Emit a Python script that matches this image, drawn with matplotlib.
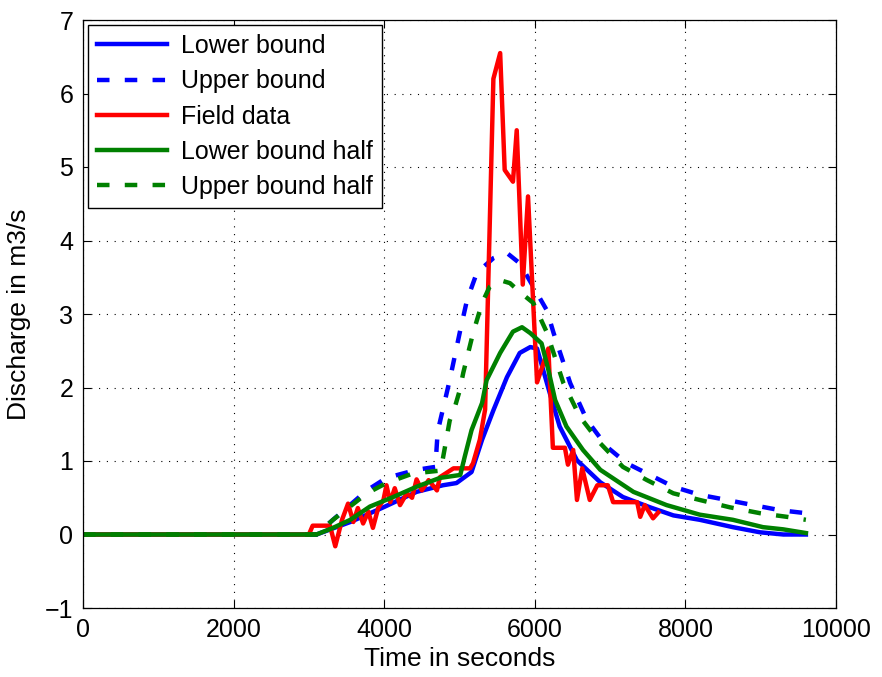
import matplotlib
matplotlib.use("Agg")
import matplotlib.pyplot as plt

plt.rcParams['font.family'] = ['Liberation Sans', 'DejaVu Sans']

# ---- data ----
t_lb = [0, 3100, 3550, 3990, 4430, 4780, 4960, 5160, 5300, 5450, 5630, 5800, 5940, 6030,
        6200, 6330, 6560, 6870, 7170, 7530, 7840, 8190, 8630, 8990, 9300, 9600]
q_lb = [0, 0, 0.17, 0.37, 0.58, 0.67, 0.70, 0.85, 1.29, 1.69, 2.14, 2.47, 2.55, 2.53,
        1.92, 1.47, 1.01, 0.71, 0.51, 0.37, 0.26, 0.20, 0.10, 0.03, 0.0, 0.0]

t_ub = [0, 3100, 3320, 3770, 4030, 4430, 4680, 4710, 4870, 5010, 5100, 5230, 5450, 5630,
        5800, 5980, 6160, 6250, 6470, 6690, 6960, 7220, 7530, 7840, 8190, 8550, 8900,
        9260, 9600]
q_ub = [0, 0, 0.20, 0.60, 0.77, 0.88, 0.92, 1.40, 2.10, 2.78, 3.19, 3.56, 3.76, 3.83,
        3.69, 3.37, 3.05, 2.74, 2.06, 1.56, 1.19, 0.97, 0.81, 0.65, 0.54, 0.47, 0.40,
        0.33, 0.29]

t_field = [0, 3000, 3050, 3280, 3350, 3440, 3520, 3590, 3650, 3720, 3790, 3850, 3920,
           3990, 4030, 4080, 4140, 4210, 4300, 4370, 4430, 4500, 4590, 4700, 4740, 4920,
           5140, 5180, 5270, 5340, 5450, 5540, 5600, 5710, 5760, 5840, 5910, 6030, 6180,
           6240, 6400, 6440, 6510, 6560, 6630, 6730, 6830, 6970, 7040, 7360, 7400, 7460,
           7570, 7640]
q_field = [0, 0, 0.12, 0.12, -0.16, 0.20, 0.42, 0.17, 0.36, 0.15, 0.31, 0.09, 0.36,
           0.47, 0.67, 0.44, 0.63, 0.40, 0.56, 0.50, 0.75, 0.60, 0.74, 0.60, 0.78, 0.90,
           0.90, 0.97, 1.29, 1.70, 6.20, 6.55, 4.96, 4.80, 5.50, 3.40, 4.60, 2.07, 2.53,
           1.18, 1.18, 0.95, 1.15, 0.47, 0.90, 0.47, 0.67, 0.67, 0.44, 0.44, 0.24, 0.40,
           0.22, 0.30]

t_lh = [0, 3100, 3320, 3550, 3810, 4120, 4430, 4740, 5010, 5070, 5160, 5300, 5360, 5540,
        5710, 5830, 5940, 6090, 6180, 6270, 6420, 6640, 6870, 7310, 7750, 8190, 8630,
        9030, 9300, 9600]
q_lh = [0, 0, 0.09, 0.20, 0.38, 0.51, 0.65, 0.77, 0.81, 1.06, 1.42, 1.79, 2.10, 2.47,
        2.76, 2.82, 2.74, 2.60, 2.24, 1.83, 1.47, 1.15, 0.88, 0.58, 0.40, 0.27, 0.20,
        0.10, 0.07, 0.02]

t_uh = [0, 3100, 3320, 3770, 4030, 4380, 4750, 4800, 4870, 4940, 5000, 5050, 5180, 5300,
        5400, 5540, 5670, 5800, 5980, 6160, 6380, 6600, 6870, 7170, 7490, 7840, 8190,
        8590, 8990, 9350, 9600]
q_uh = [0, 0, 0.20, 0.56, 0.70, 0.83, 0.87, 1.15, 1.55, 1.74, 1.95, 2.20, 2.74, 3.15,
        3.37, 3.46, 3.42, 3.30, 3.15, 2.75, 2.06, 1.60, 1.24, 0.92, 0.74, 0.56, 0.47,
        0.37, 0.29, 0.24, 0.20]

x_ticks = [0, 2000, 4000, 6000, 8000, 10000]
y_ticks = [-1, 0, 1, 2, 3, 4, 5, 6, 7]

# ---- figure ----
fig = plt.figure(figsize=(8.82, 6.77), dpi=100)
ax = fig.add_axes([83/882, 1-608/677, (836-83)/882, (608-20)/677])

lw = 3.2
dash = (9.0/lw, 11.0/lw)
ax.plot(t_lb, q_lb, color=(0, 0, 1), lw=lw, label='Lower bound')
l2, = ax.plot(t_ub, q_ub, color=(0, 0, 1), lw=lw, label='Upper bound',
              dash_capstyle='butt')
l2.set_dashes(dash)
ax.plot(t_field, q_field, color=(1, 0, 0), lw=lw, label='Field data')
ax.plot(t_lh, q_lh, color=(0, 0.5, 0), lw=lw, label='Lower bound half')
l5, = ax.plot(t_uh, q_uh, color=(0, 0.5, 0), lw=lw, label='Upper bound half',
              dash_capstyle='butt')
l5.set_dashes(dash)

ax.set_xlim(0, 10000)
ax.set_ylim(-1, 7)
ax.set_xticks(x_ticks)
ax.set_yticks(y_ticks)
ax.set_xticklabels([str(v) for v in x_ticks])
ax.set_yticklabels([('\u22121' if v < 0 else str(v)) for v in y_ticks])
ax.tick_params(direction='in', top=True, right=True, length=6, width=0.8,
               labelsize=18, pad=7)
ax.grid(True, color='black', linestyle=(0, (1, 6)), linewidth=0.8)
for s in ax.spines.values():
    s.set_linewidth(0.9)

ax.set_xlabel('Time in seconds', fontsize=19, labelpad=4)
ax.set_ylabel('Discharge in m3/s', fontsize=19, labelpad=10)

leg = ax.legend(loc='upper left', fontsize=18, frameon=True, fancybox=False,
                framealpha=1, edgecolor='black', borderaxespad=0.2,
                handlelength=2.8, handletextpad=0.55, labelspacing=0.45,
                borderpad=0.36)
leg.get_frame().set_linewidth(1.0)

fig.savefig('out.png', dpi=100)
